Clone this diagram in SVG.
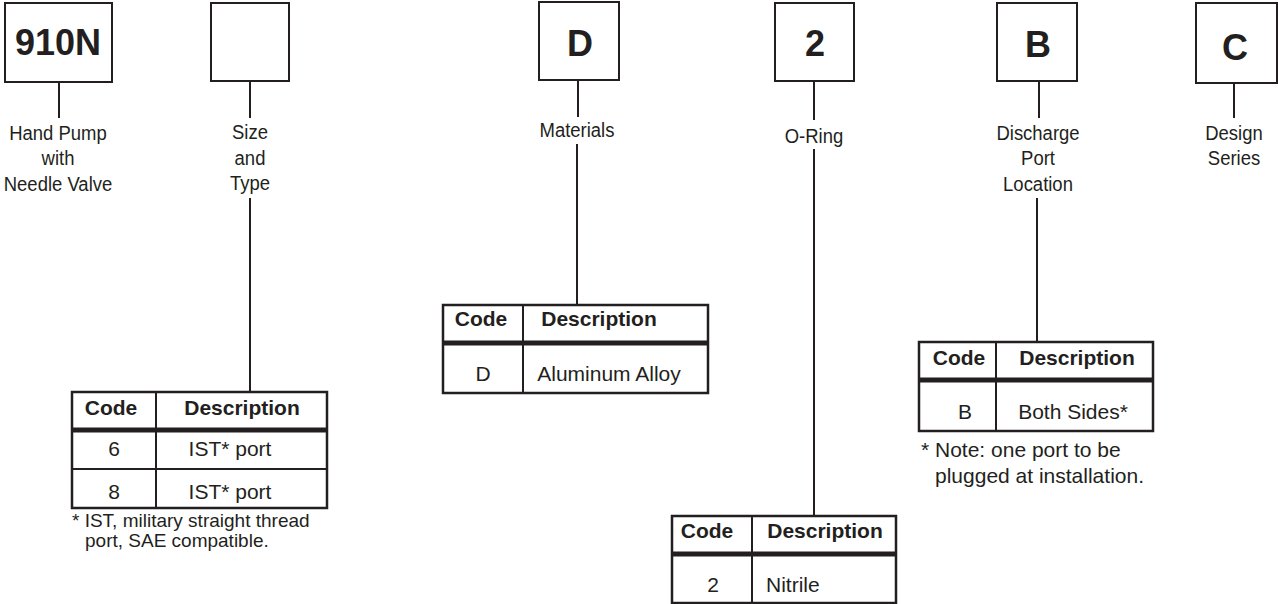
<svg xmlns="http://www.w3.org/2000/svg" width="1278" height="604" viewBox="0 0 1278 604">
<style>
.bx{fill:#fff;stroke:#231f20;stroke-width:2}
.ln{stroke:#231f20;stroke-width:2;fill:none}
.tb{fill:#fff;stroke:#231f20;stroke-width:2.5}
.thick{stroke:#231f20;stroke-width:5}
.big{font-family:"Liberation Sans",Arial,sans-serif;font-weight:bold;font-size:36px;fill:#231f20;text-anchor:middle}
.lab{font-family:"Liberation Sans",Arial,sans-serif;font-size:21px;fill:#231f20;text-anchor:middle}
.hd{font-family:"Liberation Sans",Arial,sans-serif;font-weight:bold;font-size:21px;fill:#231f20;text-anchor:middle}
.cell{font-family:"Liberation Sans",Arial,sans-serif;font-size:21px;fill:#231f20;text-anchor:middle}
.note{font-family:"Liberation Sans",Arial,sans-serif;font-size:19px;fill:#231f20}
.note2{font-family:"Liberation Sans",Arial,sans-serif;font-size:21px;fill:#231f20}
</style>
<rect width="1278" height="604" fill="#fff"/>
<g id="connectors">
<line class="ln" x1="59" y1="82" x2="59" y2="118"/>
<line class="ln" x1="250" y1="81" x2="250" y2="118"/>
<line class="ln" x1="250" y1="198" x2="250" y2="392"/>
<line class="ln" x1="578" y1="80" x2="578" y2="117"/>
<line class="ln" x1="577" y1="144" x2="577" y2="305"/>
<line class="ln" x1="814" y1="81" x2="814" y2="120"/>
<line class="ln" x1="814" y1="149" x2="814" y2="516"/>
<line class="ln" x1="1039" y1="81" x2="1039" y2="118"/>
<line class="ln" x1="1037" y1="198" x2="1037" y2="342"/>
<line class="ln" x1="1234" y1="83" x2="1234" y2="118"/>
</g>
<g id="node-910N">
<rect class="bx" x="5" y="3" width="107" height="79"/>
<text class="big" x="58" y="55">910N</text>
<text class="lab" transform="translate(58,140) scale(0.88,1)">Hand Pump</text>
<text class="lab" transform="translate(58,165) scale(0.88,1)">with</text>
<text class="lab" transform="translate(58,191) scale(0.88,1)">Needle Valve</text>
</g>
<g id="node-size">
<rect class="bx" x="211" y="3" width="78" height="78"/>
<text class="lab" transform="translate(250,139) scale(0.88,1)">Size</text>
<text class="lab" transform="translate(250,165) scale(0.88,1)">and</text>
<text class="lab" transform="translate(250,190) scale(0.88,1)">Type</text>
</g>
<g id="table-size">
<rect class="tb" x="72" y="392" width="255" height="116"/>
<line class="thick" x1="72" y1="430" x2="327" y2="430"/>
<line class="ln" x1="72" y1="469" x2="327" y2="469"/>
<line class="ln" x1="156" y1="392" x2="156" y2="508"/>
<text class="hd" x="111" y="415">Code</text>
<text class="hd" x="242" y="415">Description</text>
<text class="cell" x="114" y="456">6</text>
<text class="cell" x="230" y="456">IST* port</text>
<text class="cell" x="114" y="499">8</text>
<text class="cell" x="230" y="499">IST* port</text>
<text class="note" x="72" y="527">* IST, military straight thread</text>
<text class="note" x="85" y="547">port, SAE compatible.</text>
</g>
<g id="node-D">
<rect class="bx" x="539" y="2" width="80" height="78"/>
<text class="big" x="580" y="56">D</text>
<text class="lab" transform="translate(577,137) scale(0.88,1)">Materials</text>
</g>
<g id="table-D">
<rect class="tb" x="443" y="305" width="265" height="88"/>
<line class="thick" x1="443" y1="343" x2="708" y2="343"/>
<line class="ln" x1="523" y1="305" x2="523" y2="393"/>
<text class="hd" x="481" y="326">Code</text>
<text class="hd" x="599" y="326">Description</text>
<text class="cell" x="483" y="381">D</text>
<text class="cell" x="609" y="381">Aluminum Alloy</text>
</g>
<g id="node-2">
<rect class="bx" x="775" y="3" width="79" height="78"/>
<text class="big" x="815" y="56">2</text>
<text class="lab" transform="translate(814,143) scale(0.88,1)">O-Ring</text>
</g>
<g id="table-2">
<rect class="tb" x="672" y="516" width="224" height="87"/>
<line class="thick" x1="672" y1="554" x2="896" y2="554"/>
<line class="ln" x1="752" y1="516" x2="752" y2="603"/>
<text class="hd" x="707" y="538">Code</text>
<text class="hd" x="825" y="538">Description</text>
<text class="cell" x="713" y="592">2</text>
<text class="cell" x="766" y="592" style="text-anchor:start">Nitrile</text>
</g>
<g id="node-B">
<rect class="bx" x="997" y="3" width="80" height="78"/>
<text class="big" x="1038" y="57">B</text>
<text class="lab" transform="translate(1038,140) scale(0.88,1)">Discharge</text>
<text class="lab" transform="translate(1038,165) scale(0.88,1)">Port</text>
<text class="lab" transform="translate(1038,191) scale(0.88,1)">Location</text>
</g>
<g id="table-B">
<rect class="tb" x="919" y="342" width="234" height="89"/>
<line class="thick" x1="919" y1="380" x2="1153" y2="380"/>
<line class="ln" x1="996" y1="342" x2="996" y2="431"/>
<text class="hd" x="959" y="365">Code</text>
<text class="hd" x="1077" y="365">Description</text>
<text class="cell" x="965" y="419">B</text>
<text class="cell" x="1073" y="419">Both Sides*</text>
<text class="note2" x="921" y="457">* Note: one port to be</text>
<text class="note2" x="935" y="483">plugged at installation.</text>
</g>
<g id="node-C">
<rect class="bx" x="1196" y="3" width="81" height="80"/>
<text class="big" x="1235" y="60">C</text>
<text class="lab" transform="translate(1234,140) scale(0.88,1)">Design</text>
<text class="lab" transform="translate(1234,165) scale(0.88,1)">Series</text>
</g>
</svg>
